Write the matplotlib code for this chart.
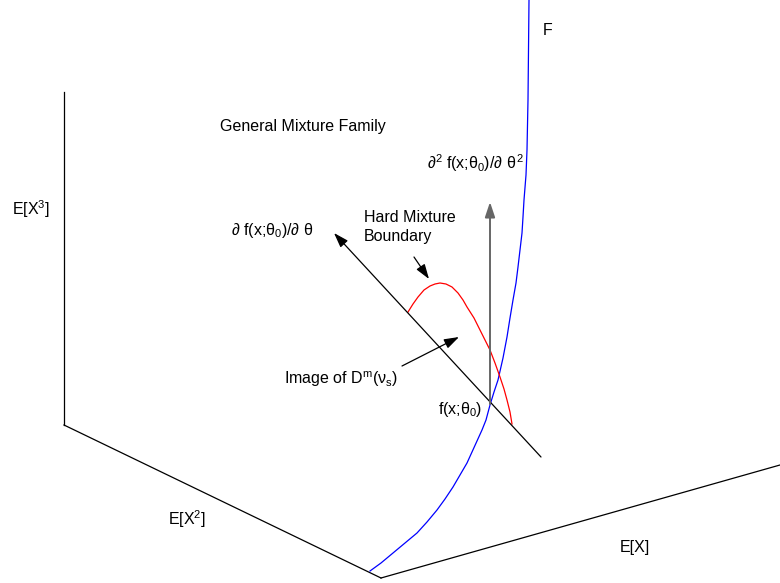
import matplotlib
matplotlib.use("Agg")
import matplotlib.pyplot as plt


# Diagram geometry in pixel units (y grows downwards).
AXIS_X3_X = [64, 64]
AXIS_X3_Y = [92, 425]
AXIS_X2_X = [64, 381]
AXIS_X2_Y = [425, 578]
AXIS_X_X = [381, 780]
AXIS_X_Y = [578, 465]

CURVE_F_X = [370, 381, 393, 405, 417, 427, 437, 445, 453, 460, 467, 472, 477, 482,
             486, 490, 494, 498, 503, 507, 510, 513, 516, 518, 520, 522, 523, 524,
             526, 527, 528, 528.5, 529]
CURVE_F_Y = [571, 563, 553, 543, 533, 522, 510, 499, 487, 475, 463, 452, 441, 430,
             420, 405, 392, 380, 358, 337, 318, 300, 283, 267, 250, 233, 217, 200,
             175, 150, 100, 50, 0]

BOUNDARY_X = [408, 413, 418, 424, 430, 435, 440, 446, 452, 458, 463, 467, 474, 480,
              485, 490, 495, 500, 504, 507, 510, 512]
BOUNDARY_Y = [312, 304, 297, 290, 286, 284, 283, 284, 287, 293, 300, 307, 318, 330,
              340, 350, 363, 377, 389, 400, 412, 424]

# arrows: (tail, head)
FIRST_DERIV = ((541, 457), (334, 233))
SECOND_DERIV = ((490, 404), (490, 202))
IMAGE_ARROW = ((402, 366), (459, 337))
HARD_ARROW = ((414, 257), (429, 279))

LABELS = [
    ("F", 543, 35),
    ("General Mixture Family", 220, 131),
    (r"$\partial^2$ f(x;$\theta_0$)/$\partial$ $\theta^2$", 427, 169),
    ("Hard Mixture", 364, 222),
    ("Boundary", 364, 241),
    (r"$\partial$ f(x;$\theta_0$)/$\partial$ $\theta$", 231, 235),
    (r"Image of D$^\mathregular{m}$($\nu_s$)", 284, 384),
    (r"f(x;$\theta_0$)", 438, 414),
    (r"E[X$^3$]", 12, 215),
    (r"E[X$^2$]", 168, 525),
    ("E[X]", 620, 552),
]

plt.rcParams["font.family"] = ["Liberation Sans", "DejaVu Sans"]
plt.rcParams["mathtext.fontset"] = "custom"
plt.rcParams["mathtext.rm"] = "Liberation Sans"
plt.rcParams["mathtext.it"] = "Liberation Sans"
plt.rcParams["mathtext.bf"] = "Liberation Sans:bold"
plt.rcParams["mathtext.sf"] = "Liberation Sans"


def draw_arrow(ax, arrow, color="black", lw=0.9):
    tail, head = arrow
    ax.annotate(
        "",
        xy=head,
        xytext=tail,
        arrowprops=dict(
            arrowstyle="-|>,head_length=0.6,head_width=0.2",
            mutation_scale=15,
            color=color,
            lw=lw,
            shrinkA=0,
            shrinkB=0,
        ),
    )


def main():
    fig = plt.figure(figsize=(7.8, 5.83), dpi=100)
    ax = fig.add_axes([0, 0, 1, 1])
    ax.set_xlim(0, 780)
    ax.set_ylim(583, 0)
    ax.axis("off")

    for xs, ys in [(AXIS_X3_X, AXIS_X3_Y), (AXIS_X2_X, AXIS_X2_Y), (AXIS_X_X, AXIS_X_Y)]:
        ax.plot(xs, ys, color="black", linewidth=0.9)

    ax.plot(CURVE_F_X, CURVE_F_Y, color="blue", linewidth=0.9)
    ax.plot(BOUNDARY_X, BOUNDARY_Y, color="red", linewidth=0.9)

    draw_arrow(ax, FIRST_DERIV)
    draw_arrow(ax, SECOND_DERIV, color="0.4", lw=1.4)
    draw_arrow(ax, IMAGE_ARROW)
    draw_arrow(ax, HARD_ARROW)

    for text, x, y in LABELS:
        ax.text(x, y, text, fontsize=11.5, ha="left", va="baseline")

    fig.savefig("out.png", dpi=100)


if __name__ == "__main__":
    main()
